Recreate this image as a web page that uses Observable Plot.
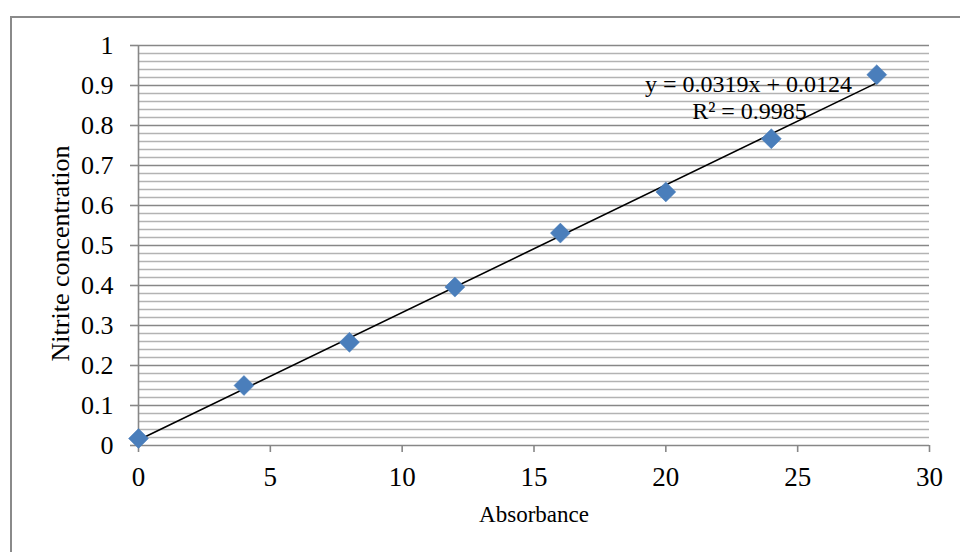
<!DOCTYPE html>
<html>
<head>
<meta charset="utf-8">
<script src="https://cdn.jsdelivr.net/npm/d3@7"></script>
<script src="https://cdn.jsdelivr.net/npm/@observablehq/plot@0.6"></script>
<style>
  html, body { margin: 0; padding: 0; background: #fff; }
  #wrap { position: relative; width: 960px; height: 552px; overflow: hidden; }
  #border { position: absolute; left: 10px; top: 16px; width: 980px; height: 600px;
            border-left: 2px solid #8a8a8a; border-top: 2px solid #8a8a8a; box-sizing: border-box; }
  #chart { position: absolute; left: 0; top: 0; }
</style>
</head>
<body>
<div id="wrap"><div id="border"></div><div id="chart"></div></div>
<script>
// Data
const absorbance = [0, 4, 8, 12, 16, 20, 24, 28];
const nitrite = [0.0175, 0.150, 0.258, 0.396, 0.531, 0.634, 0.767, 0.927];
const yMajorTicks = [0, 0.1, 0.2, 0.3, 0.4, 0.5, 0.6, 0.7, 0.8, 0.9, 1];
const yMinorTicks = d3.range(0, 51).map(i => +(i * 0.02).toFixed(2)).filter(v => !yMajorTicks.includes(v));
const xTicks = [0, 5, 10, 15, 20, 25, 30];
const xTitle = "Absorbance";
const yTitle = "Nitrite concentration";
const equationLines = ["y = 0.0319x + 0.0124", "R² = 0.9985"];

const points = absorbance.map((x, i) => ({x, y: nitrite[i]}));
const serif = "'Liberation Serif', 'Times New Roman', serif";

const chart = Plot.plot({
  width: 960,
  height: 552,
  marginLeft: 138,
  marginRight: 31,
  marginTop: 45,
  marginBottom: 107,
  style: {fontFamily: serif, background: "transparent"},
  x: {domain: [0, 30], ticks: xTicks},
  y: {domain: [0, 1], ticks: yMajorTicks},
  marks: [
    Plot.ruleY(yMinorTicks, {stroke: "#b3b3b3", strokeWidth: 1.5}),
    Plot.ruleY(yMajorTicks.filter(v => v > 0), {stroke: "#878787", strokeWidth: 1.5}),
    Plot.ruleY([0], {stroke: "#878787", strokeWidth: 1.6}),
    Plot.ruleX([0], {stroke: "#878787", strokeWidth: 1.6}),
    Plot.axisY({ticks: yMajorTicks, tickSize: 8, tickPadding: 17, label: null,
      tickFormat: d => String(d), fontSize: 26, stroke: "#878787", strokeWidth: 1.6, fill: "#000"}),
    Plot.axisX({ticks: xTicks, tickSize: 7, tickPadding: 14, label: null,
      tickFormat: d => String(d), fontSize: 27, stroke: "#878787", strokeWidth: 1.6, fill: "#000"}),
    Plot.text([xTitle], {frameAnchor: "bottom", dy: 76, fontSize: 23, fill: "#000", fontFamily: serif}),
    Plot.text([yTitle], {frameAnchor: "left", textAnchor: "middle", rotate: -90, dx: -78, dy: 8, fontSize: 26, fill: "#000", fontFamily: serif}),
    Plot.linearRegressionY(points, {x: "x", y: "y", stroke: "#000", strokeWidth: 1.6, ci: 0}),
    Plot.dot(points, {x: "x", y: "y", symbol: "diamond2", r: 9, fill: "#4a7ebb", stroke: "#4a7ebb", strokeWidth: 0.5}),
    Plot.text([equationLines[0]], {frameAnchor: "top-right", dx: -181, dy: 29, textAnchor: "middle", fontSize: 24, fill: "#000", fontFamily: serif}),
    Plot.text([equationLines[1]], {frameAnchor: "top-right", dx: -180, dy: 56, textAnchor: "middle", fontSize: 24, fill: "#000", fontFamily: serif})
  ]
});
document.getElementById("chart").appendChild(chart);
</script>
</body>
</html>
